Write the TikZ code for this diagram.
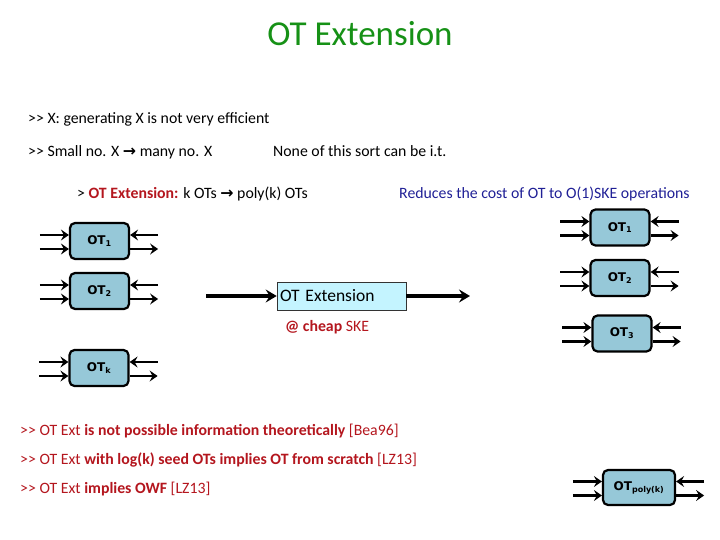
\documentclass[tikz,border=0pt]{standalone}
\usepackage{fontspec}
\setmainfont{Carlito}[Ligatures=ResetAll]
\newfontfamily\boxfont{DejaVu Sans}
\usetikzlibrary{arrows.meta}

\definecolor{titlegreen}{RGB}{22,145,22}
\definecolor{otred}{RGB}{180,22,30}
\definecolor{otnavy}{RGB}{32,32,150}
\definecolor{otblue}{RGB}{150,200,216}
\definecolor{extcyan}{RGB}{196,244,255}

\newcommand{\sym}{{\boxfont\bfseries →}}
\newcommand{\gtgt}{>\kern0pt>}
% four wires round one OT box
\newcommand{\otwires}[1]{%
  \draw[wire] ([xshift=-29pt,yshift=6pt]#1.west) -- ([yshift=6pt]#1.west);
  \draw[wire] ([xshift=-29pt,yshift=-8pt]#1.west) -- ([yshift=-8pt]#1.west);
  \draw[wire] ([xshift=28pt,yshift=6pt]#1.east) -- ([yshift=6pt]#1.east);
  \draw[wire] ([yshift=-8pt]#1.east) -- ([xshift=28pt,yshift=-8pt]#1.east);}

\begin{document}
\begin{tikzpicture}[
    x=1pt, y=-1pt,
    font=\fontsize{15.8}{18}\selectfont,
    line/.style={anchor=base west, inner sep=0pt},
    otbox/.style={draw=black, line width=2.2pt, rounded corners=5pt, fill=otblue,
        minimum width=59pt, minimum height=36pt, inner sep=2pt,
        font=\boxfont\bfseries\fontsize{12}{14}\selectfont},
    extbox/.style={draw=black!80, line width=0.6pt, fill=extcyan,
        minimum width=129pt, minimum height=28pt, text width=123pt, align=left,
        inner sep=3pt, font=\fontsize{17.5}{20}\selectfont},
    wire/.style={-{Stealth[length=8pt,width=11pt,inset=3pt]}, line width=2.6pt},
    bigwire/.style={-{Stealth[length=11pt,width=13pt,inset=4pt]}, line width=3.2pt},
]
\path[use as bounding box] (0,0) rectangle (720,540);

% ---- title and points ----
\node[anchor=base, text=titlegreen, font=\fontsize{35}{40}\selectfont] (title) at (360,46) {OT Extension};
\node[line] (p1) at (28,124) {\gtgt\ X: generating X is not very efficient};
\node[line] (p2) at (28,157) {\gtgt\ Small no. X \sym\ many no. X};
\node[line] (p3) at (273,157) {None of this sort can be i.t.};
\node[line] (p4) at (77,199) {> \textcolor{otred}{\bfseries OT Extension:} k OTs \sym\ poly(k) OTs};
\node[line, text=otnavy] (p5) at (399,199) {Reduces the cost of OT to O(1)SKE operations};

% ---- k seed OTs (left column) ----
\node[otbox] (l1) at (99.5,241) {OT\textsubscript{1}};
\node[otbox] (l2) at (99.5,291) {OT\textsubscript{2}};
\node[otbox] (lk) at (99,368) {OT\textsubscript{k}};
\otwires{l1}
\otwires{l2}
\otwires{lk}

% ---- extension in the middle ----
\node[extbox] (ext) at (341.5,296) {OT Extension};
\node[line, text=otred] (cheap) at (285,331) {\bfseries @ cheap \mdseries SKE};
\coordinate (in) at (206,296);
\coordinate (out) at (470,296);
\draw[bigwire] (in) -- (ext);
\draw[bigwire] (ext) -- (out);

% ---- poly(k) OTs (right column) ----
\node[otbox] (r1) at (620,227.5) {OT\textsubscript{1}};
\node[otbox] (r2) at (620,278) {OT\textsubscript{2}};
\node[otbox] (r3) at (622,333.5) {OT\textsubscript{3}};
\node[otbox, minimum width=72pt, minimum height=35pt] (rp) at (639,487.5) {OT\textsubscript{poly(k)}};
\otwires{r1}
\otwires{r2}
\otwires{r3}
\otwires{rp}

% ---- remarks ----
\node[line, text=otred] (n1) at (20,435) {\gtgt\ OT Ext \textbf{is not possible information theoretically} [Bea96]};
\node[line, text=otred] (n2) at (20,464) {\gtgt\ OT Ext \textbf{with log(k) seed OTs implies OT from scratch} [LZ13]};
\node[line, text=otred] (n3) at (20,493) {\gtgt\ OT Ext \textbf{implies OWF} [LZ13]};

\end{tikzpicture}
\end{document}
